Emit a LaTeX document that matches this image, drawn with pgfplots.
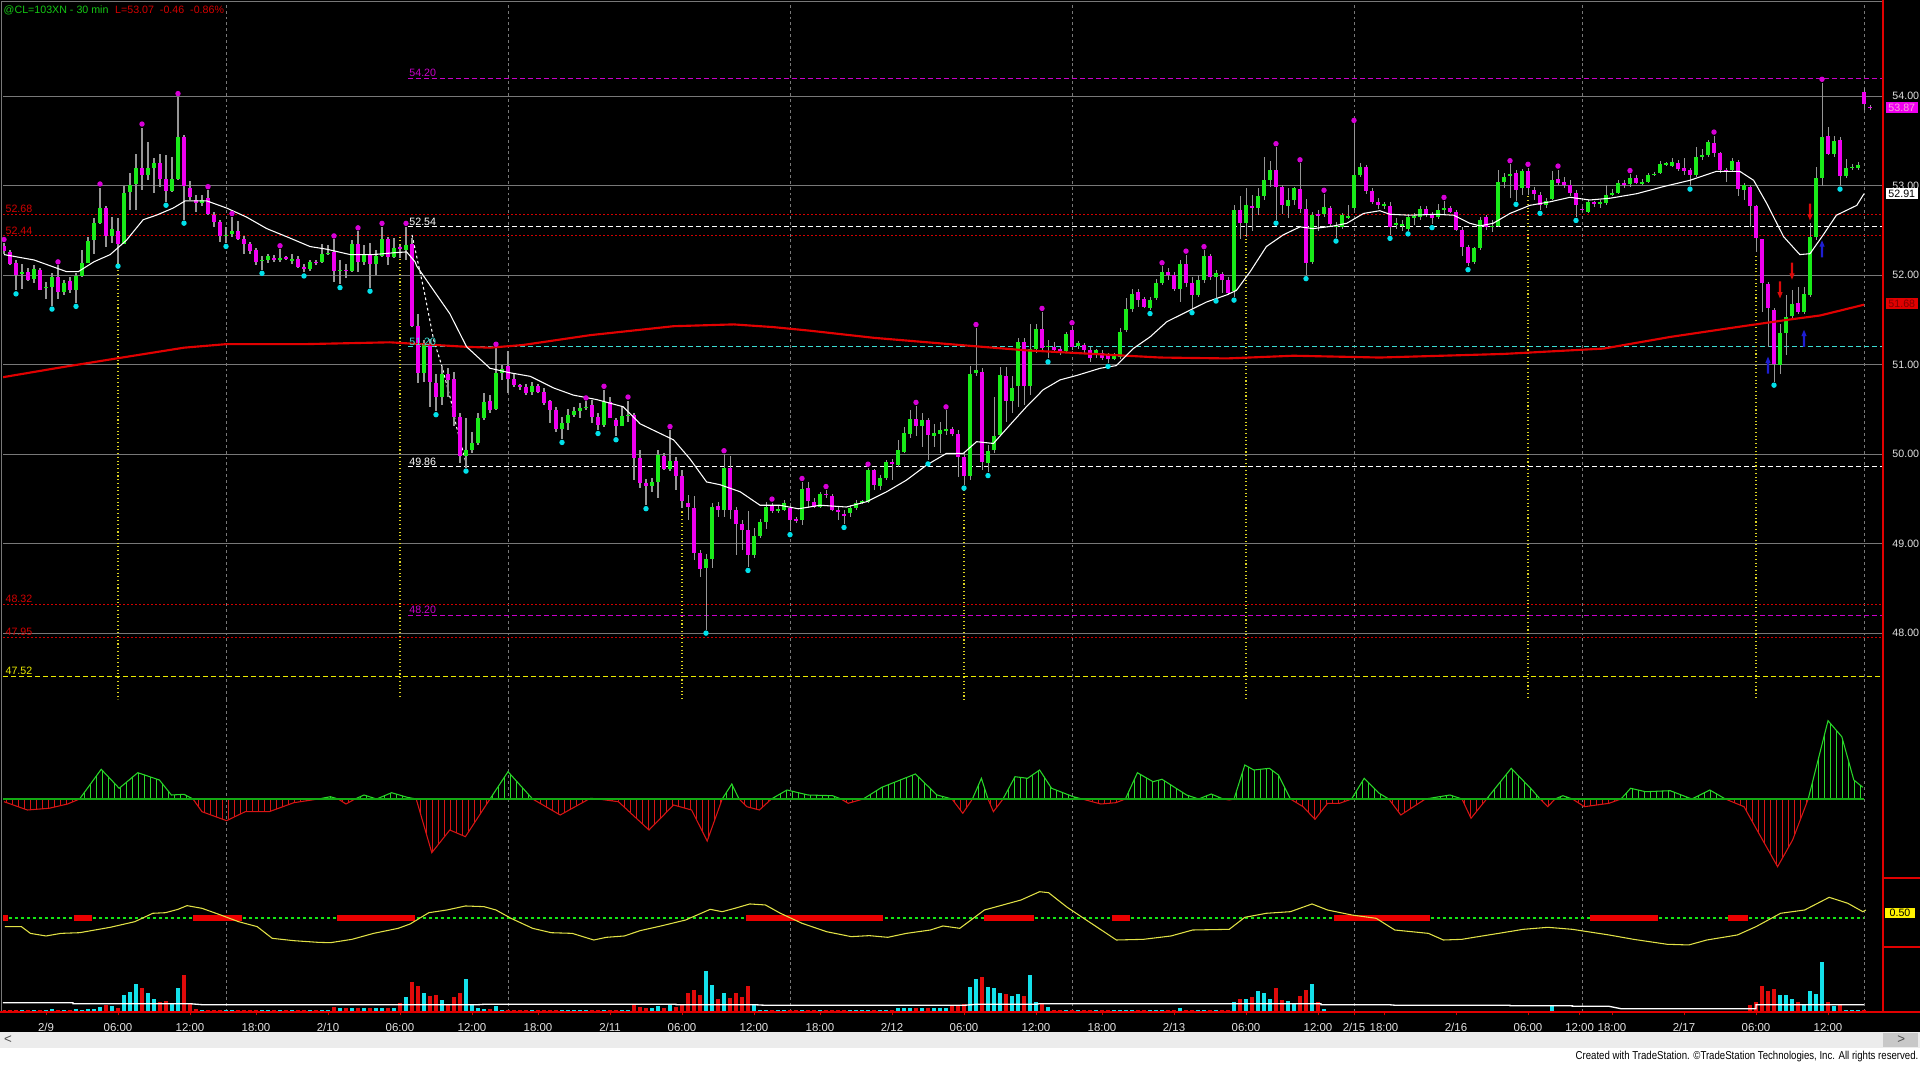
\documentclass[border=0pt]{standalone}
\usepackage{fontspec}
\setmainfont{Liberation Sans}
\usepackage{graphicx}
\usepackage{pgfplots}
\usepackage{pgfplotstable}
\pgfplotsset{compat=1.18}
\usetikzlibrary{patterns.meta}

\definecolor{upc}{RGB}{25,235,25}
\definecolor{dnc}{RGB}{240,0,240}
\definecolor{wick}{RGB}{150,150,150}
\definecolor{gridc}{RGB}{120,120,120}
\definecolor{mared}{RGB}{225,0,0}
\definecolor{dotcy}{RGB}{0,225,235}
\definecolor{dotmg}{RGB}{215,0,215}
\definecolor{lvred}{RGB}{210,0,0}
\definecolor{lvcy}{RGB}{60,220,210}
\definecolor{lvmg}{RGB}{200,0,200}
\definecolor{lvyel}{RGB}{235,235,0}
\definecolor{oscg}{RGB}{40,215,40}
\definecolor{oscr}{RGB}{215,20,20}
\definecolor{zerog}{RGB}{20,170,20}
\definecolor{yel}{RGB}{225,225,70}
\definecolor{dotg}{RGB}{20,230,20}
\definecolor{blk}{RGB}{235,0,0}
\definecolor{volc}{RGB}{20,225,235}
\definecolor{volr}{RGB}{225,10,10}
\definecolor{labc}{RGB}{225,225,225}
\definecolor{arrb}{RGB}{30,30,210}
\definecolor{arrr}{RGB}{220,10,10}
\definecolor{hdrg}{RGB}{20,200,20}
\definecolor{scrl}{RGB}{236,236,236}
\definecolor{scrd}{RGB}{200,200,200}

\newcommand{\lbl}{\fontsize{4}{4.8}\selectfont}

% arrow marks, tip at the data point
\pgfdeclareplotmark{dnarrow}{%
  \pgfpathmoveto{\pgfqpoint{0pt}{0pt}}%
  \pgfpathlineto{\pgfqpoint{1pt}{2.4pt}}%
  \pgfpathlineto{\pgfqpoint{0.4pt}{2.4pt}}%
  \pgfpathlineto{\pgfqpoint{0.4pt}{6.4pt}}%
  \pgfpathlineto{\pgfqpoint{-0.4pt}{6.4pt}}%
  \pgfpathlineto{\pgfqpoint{-0.4pt}{2.4pt}}%
  \pgfpathlineto{\pgfqpoint{-1pt}{2.4pt}}%
  \pgfpathclose\pgfusepathqfill}
\pgfdeclareplotmark{uparrow}{%
  \pgfpathmoveto{\pgfqpoint{0pt}{0pt}}%
  \pgfpathlineto{\pgfqpoint{1pt}{-2.4pt}}%
  \pgfpathlineto{\pgfqpoint{0.4pt}{-2.4pt}}%
  \pgfpathlineto{\pgfqpoint{0.4pt}{-6.4pt}}%
  \pgfpathlineto{\pgfqpoint{-0.4pt}{-6.4pt}}%
  \pgfpathlineto{\pgfqpoint{-0.4pt}{-2.4pt}}%
  \pgfpathlineto{\pgfqpoint{-1pt}{-2.4pt}}%
  \pgfpathclose\pgfusepathqfill}

% 30 min bars: index, open, high, low, close, volume
\pgfplotstableread{
i o h l c v
0 52.33 52.36 52.24 52.27 2
1 52.26 52.28 52.11 52.13 2
2 52.14 52.17 51.83 52.00 2
3 52.02 52.13 51.85 52.03 2
4 52.03 52.08 51.93 51.95 2
5 51.96 52.11 51.91 52.07 2
6 52.06 52.08 51.83 51.84 2
7 51.86 51.93 51.74 51.87 2
8 51.87 52.02 51.66 51.98 3
9 51.98 52.11 51.74 51.81 2
10 51.81 51.95 51.78 51.91 2
11 51.93 51.98 51.80 51.83 2
12 51.83 52.02 51.69 51.99 3
13 51.99 52.28 51.98 52.14 2
14 52.14 52.43 52.14 52.38 3
15 52.39 52.64 52.24 52.58 3
16 52.58 52.98 52.57 52.75 5
17 52.75 52.77 52.32 52.44 6.7
18 52.44 52.65 52.36 52.52 5.7
19 52.49 52.64 52.14 52.35 4
20 52.35 53.00 52.35 52.92 16.7
21 52.93 53.14 52.73 53.01 20
22 53.02 53.36 52.73 53.20 27.7
23 53.20 53.65 52.95 53.12 24.3
24 53.12 53.49 53.06 53.20 19.3
25 53.20 53.31 52.92 53.25 13.3
26 53.25 53.35 52.99 53.08 10
27 53.08 53.34 52.82 52.94 11
28 52.94 53.32 52.93 53.08 9
29 53.08 53.99 53.06 53.54 24.3
30 53.54 53.57 52.62 53.00 36.7
31 52.98 53.05 52.84 52.87 8.3
32 52.84 52.90 52.71 52.81 3.3
33 52.81 52.90 52.77 52.84 2
34 52.86 52.95 52.67 52.68 2
35 52.67 52.71 52.54 52.60 2
36 52.59 52.62 52.37 52.44 2
37 52.44 52.54 52.36 52.45 2
38 52.46 52.65 52.43 52.49 2
39 52.49 52.60 52.39 52.40 2
40 52.40 52.44 52.24 52.35 2
41 52.35 52.37 52.24 52.27 2
42 52.28 52.30 52.11 52.15 2
43 52.16 52.21 52.06 52.17 2
44 52.17 52.24 52.14 52.21 2
45 52.19 52.23 52.15 52.18 2
46 52.18 52.29 52.15 52.19 2
47 52.20 52.22 52.17 52.19 2
48 52.17 52.24 52.13 52.18 2
49 52.18 52.21 52.08 52.09 2
50 52.09 52.13 52.03 52.07 2
51 52.07 52.17 52.05 52.15 2
52 52.15 52.17 52.12 52.14 2
53 52.15 52.35 52.14 52.24 2
54 52.24 52.34 52.22 52.25 2
55 52.26 52.40 51.92 52.05 5
56 52.05 52.17 51.90 52.06 4
57 52.06 52.13 51.97 52.05 4
58 52.05 52.39 52.04 52.35 4
59 52.35 52.49 52.04 52.15 4
60 52.15 52.34 52.11 52.23 4
61 52.22 52.36 51.86 52.12 4
62 52.13 52.28 52.00 52.22 4
63 52.22 52.54 52.20 52.40 4
64 52.40 52.43 52.11 52.20 4
65 52.20 52.41 52.19 52.31 4
66 52.31 52.34 52.19 52.30 9
67 52.28 52.54 52.17 52.34 15
68 52.35 52.41 51.42 51.43 29.7
69 51.43 51.57 50.80 50.91 26.3
70 50.91 51.28 50.81 51.22 19
71 51.23 51.29 50.53 50.81 15.7
72 50.80 50.90 50.48 50.64 16.7
73 50.64 50.98 50.55 50.90 11.7
74 50.90 50.96 50.64 50.83 8.3
75 50.84 50.92 50.31 50.42 15
76 50.42 50.46 49.90 49.98 19
77 49.98 50.40 49.85 50.05 32.7
78 50.05 50.25 50.01 50.13 8.3
79 50.13 50.46 50.10 50.40 4.3
80 50.40 50.68 50.38 50.58 3.3
81 50.59 50.66 50.46 50.49 3
82 50.50 51.19 50.49 50.91 5.7
83 50.91 51.00 50.83 50.95 2
84 50.99 51.15 50.68 50.84 2
85 50.84 50.90 50.75 50.77 2
86 50.77 50.79 50.72 50.75 2
87 50.75 50.78 50.66 50.68 2
88 50.69 50.81 50.66 50.76 2
89 50.76 50.79 50.68 50.70 2
90 50.70 50.74 50.55 50.57 2
91 50.59 50.61 50.35 50.49 2
92 50.49 50.53 50.25 50.28 2
93 50.28 50.42 50.17 50.35 2
94 50.35 50.51 50.27 50.44 2
95 50.44 50.53 50.42 50.48 2
96 50.48 50.57 50.40 50.52 2
97 50.52 50.59 50.49 50.53 2
98 50.55 50.61 50.35 50.42 2
99 50.42 50.46 50.27 50.33 2
100 50.33 50.72 50.31 50.58 2
101 50.58 50.64 50.40 50.41 2
102 50.38 50.40 50.20 50.31 2
103 50.31 50.53 50.31 50.43 2
104 50.43 50.60 50.36 50.44 2
105 50.44 50.46 49.71 49.96 7.7
106 49.96 50.05 49.62 49.68 5
107 49.68 49.72 49.43 49.64 4
108 49.64 49.73 49.58 49.69 4.3
109 49.69 50.05 49.51 49.99 5.7
110 49.98 50.01 49.82 49.84 4
111 49.84 50.27 49.81 49.92 7.7
112 49.92 49.97 49.60 49.76 5
113 49.76 49.82 49.40 49.48 8.3
114 49.46 49.54 49.27 49.41 19.3
115 49.40 49.53 48.82 48.90 21.7
116 48.90 48.93 48.63 48.72 16.7
117 48.73 48.89 48.04 48.83 40.7
118 48.83 49.45 48.73 49.41 26.7
119 49.42 49.47 49.30 49.38 13.3
120 49.38 50.00 49.30 49.85 19.3
121 49.85 49.98 49.28 49.38 14.3
122 49.38 49.41 48.87 49.22 19.3
123 49.22 49.26 48.93 49.15 15
124 49.15 49.36 48.74 48.87 25.7
125 48.87 49.17 48.84 49.09 7.7
126 49.09 49.28 49.06 49.24 2.3
127 49.24 49.47 49.17 49.41 2
128 49.42 49.46 49.34 49.36 2
129 49.36 49.43 49.34 49.39 2
130 49.38 49.49 49.36 49.45 2
131 49.40 49.43 49.14 49.26 2
132 49.27 49.30 49.23 49.26 2
133 49.26 49.69 49.21 49.61 2
134 49.62 49.69 49.40 49.48 2
135 49.47 49.51 49.40 49.41 2
136 49.41 49.58 49.40 49.55 2
137 49.56 49.60 49.51 49.54 2
138 49.53 49.56 49.36 49.38 2
139 49.38 49.41 49.26 49.36 2
140 49.33 49.38 49.22 49.32 2
141 49.34 49.43 49.30 49.40 2
142 49.40 49.49 49.38 49.46 2
143 49.46 49.49 49.44 49.47 2
144 49.47 49.85 49.46 49.82 2
145 49.82 49.84 49.60 49.66 2
146 49.64 49.77 49.60 49.73 2
147 49.73 49.94 49.71 49.91 2
148 49.91 49.95 49.71 49.89 2
149 49.88 50.16 49.86 50.05 4.3
150 50.03 50.31 50.01 50.24 4.3
151 50.23 50.49 50.18 50.39 4.3
152 50.39 50.54 50.20 50.31 4.3
153 50.32 50.46 50.08 50.38 4.3
154 50.38 50.40 49.93 50.21 4.3
155 50.20 50.34 50.08 50.24 4.3
156 50.23 50.36 50.01 50.27 4.3
157 50.27 50.49 50.21 50.28 4.3
158 50.28 50.30 50.20 50.23 5.7
159 50.23 50.27 49.75 49.97 6
160 49.97 50.01 49.66 49.76 7.7
161 49.76 50.98 49.71 50.90 25
162 50.91 51.41 50.87 50.94 32.7
163 50.92 50.96 49.82 49.91 35
164 49.90 50.10 49.80 50.04 25
165 50.05 50.64 50.01 50.20 24.3
166 50.21 50.98 50.20 50.88 19.3
167 50.87 50.97 50.36 50.59 17.7
168 50.59 50.87 50.46 50.74 15.7
169 50.76 51.30 50.53 51.26 18.3
170 51.26 51.30 50.55 50.76 15.7
171 50.76 51.46 50.66 51.18 36.7
172 51.18 51.46 51.13 51.40 10
173 51.40 51.59 51.16 51.19 7.7
174 51.20 51.28 51.07 51.21 5
175 51.20 51.26 51.15 51.17 2
176 51.18 51.20 51.11 51.15 2
177 51.15 51.37 51.13 51.34 2
178 51.39 51.43 51.16 51.20 2
179 51.21 51.26 51.17 51.24 2
180 51.22 51.24 51.13 51.16 2
181 51.16 51.20 51.03 51.08 2
182 51.11 51.18 51.07 51.16 2
183 51.13 51.16 51.05 51.08 2
184 51.11 51.13 51.02 51.06 2
185 51.06 51.13 51.05 51.10 2
186 51.09 51.41 51.07 51.37 2
187 51.39 51.74 51.37 51.62 2
188 51.62 51.85 51.59 51.79 2
189 51.81 51.85 51.65 51.72 2
190 51.73 51.76 51.63 51.65 2
191 51.63 51.76 51.61 51.72 2
192 51.74 51.96 51.72 51.91 2
193 51.91 52.10 51.89 52.04 2
194 52.04 52.08 51.95 52.00 2
195 52.00 52.04 51.82 51.85 2
196 51.85 52.17 51.70 52.13 4.3
197 52.13 52.23 51.87 51.91 2
198 51.91 51.98 51.62 51.78 2
199 51.78 52.00 51.76 51.95 2
200 51.95 52.28 51.91 52.21 2
201 52.21 52.24 51.95 51.98 2
202 51.98 52.06 51.75 52.02 2
203 52.01 52.04 51.80 51.95 2
204 51.95 51.98 51.78 51.80 2
205 51.82 52.78 51.76 52.73 10
206 52.73 52.88 52.41 52.58 12.7
207 52.58 52.97 52.43 52.78 12.7
208 52.77 52.90 52.49 52.76 15
209 52.75 52.97 52.67 52.88 20.7
210 52.88 53.32 52.84 53.06 19
211 53.06 53.27 52.99 53.18 12.7
212 53.18 53.43 52.62 52.99 24
213 52.98 53.01 52.69 52.78 12.3
214 52.77 52.97 52.64 52.84 11
215 52.84 52.99 52.78 52.97 8.3
216 52.96 53.25 52.69 52.74 16
217 52.74 52.85 52.00 52.14 21.7
218 52.15 52.71 52.13 52.67 28.3
219 52.68 52.73 52.50 52.66 10
220 52.68 52.91 52.65 52.76 3.3
221 52.75 52.77 52.54 52.57 1.5
222 52.54 52.60 52.42 52.55 1.5
223 52.54 52.69 52.52 52.67 1.5
224 52.65 52.78 52.63 52.66 1.5
225 52.75 53.69 52.73 53.12 1.5
226 53.12 53.25 53.10 53.21 1.5
227 53.21 53.23 52.91 52.94 1.5
228 52.94 52.97 52.80 52.82 1.5
229 52.82 52.86 52.74 52.78 1.5
230 52.78 52.82 52.74 52.79 1.5
231 52.77 52.82 52.45 52.54 1.5
232 52.57 52.64 52.52 52.58 1.5
233 52.56 52.62 52.50 52.57 1.5
234 52.52 52.69 52.50 52.65 1.5
235 52.65 52.69 52.56 52.66 1.5
236 52.65 52.77 52.62 52.74 1.5
237 52.74 52.77 52.65 52.67 1.5
238 52.68 52.71 52.57 52.64 1.5
239 52.65 52.80 52.63 52.73 1.5
240 52.73 52.83 52.69 52.75 1.5
241 52.75 52.77 52.69 52.71 1.5
242 52.71 52.73 52.49 52.50 1.5
243 52.50 52.54 52.21 52.32 1.5
244 52.32 52.34 52.10 52.14 1.5
245 52.15 52.32 52.13 52.30 1.5
246 52.30 52.65 52.28 52.62 1.5
247 52.65 52.67 52.50 52.54 1.5
248 52.54 52.62 52.48 52.55 1.5
249 52.55 53.18 52.54 53.04 1.5
250 53.04 53.14 52.97 53.10 1.5
251 53.11 53.24 52.86 53.13 1.5
252 53.14 53.18 52.83 52.95 1.5
253 52.97 53.19 52.90 53.16 1.5
254 53.16 53.20 52.90 52.97 1.5
255 52.95 52.99 52.84 52.91 1.5
256 52.90 52.93 52.73 52.78 1.5
257 52.78 52.86 52.75 52.83 1.5
258 52.85 53.16 52.84 53.06 6.7
259 53.08 53.18 53.01 53.03 1.5
260 53.04 53.10 52.97 53.01 1.5
261 53.01 53.06 52.88 52.92 1.5
262 52.92 52.95 52.65 52.78 1.5
263 52.74 52.76 52.71 52.73 1.5
264 52.71 52.84 52.69 52.82 1.5
265 52.81 52.83 52.76 52.80 1.5
266 52.80 52.84 52.75 52.81 1.5
267 52.81 53.01 52.79 52.90 1.5
268 52.90 52.96 52.88 52.92 1.5
269 52.92 53.06 52.91 53.03 1.5
270 53.03 53.06 52.97 53.02 1.5
271 53.02 53.13 52.99 53.09 1.5
272 53.09 53.12 53.02 53.03 1.5
273 53.03 53.07 53.01 53.04 1.5
274 53.04 53.14 53.03 53.12 1.5
275 53.12 53.15 53.11 53.13 1.5
276 53.14 53.27 53.13 53.24 1.5
277 53.24 53.27 53.22 53.25 1.5
278 53.22 53.31 53.21 53.27 1.5
279 53.25 53.29 53.16 53.19 1.5
280 53.20 53.31 53.12 53.16 1.5
281 53.18 53.20 53.00 53.12 1.5
282 53.12 53.43 53.10 53.32 1.5
283 53.32 53.41 53.29 53.34 1.5
284 53.34 53.51 53.32 53.49 1.5
285 53.48 53.56 53.32 53.36 1.5
286 53.36 53.38 53.14 53.18 1.5
287 53.18 53.20 53.04 53.16 1.5
288 53.17 53.31 53.16 53.27 1.5
289 53.27 53.29 52.88 52.96 1.5
290 52.95 53.03 52.84 53.01 1.5
291 52.98 53.01 52.54 52.77 6.7
292 52.77 52.79 52.26 52.41 10
293 52.40 52.41 51.59 51.91 25.7
294 51.90 51.93 51.20 51.63 21
295 51.61 51.63 50.81 51.01 23.3
296 51.00 51.46 50.90 51.35 16.7
297 51.35 51.78 51.11 51.53 16.7
298 51.54 51.83 51.50 51.68 13.3
299 51.69 51.87 51.57 51.59 10
300 51.59 51.87 51.57 51.79 6.7
301 51.78 52.58 51.76 52.43 21
302 52.43 53.21 52.39 53.09 17.7
303 53.09 54.15 53.00 53.54 50
304 53.55 53.66 53.34 53.35 10
305 53.36 53.55 53.32 53.50 5.7
306 53.51 53.54 53.00 53.11 6.7
307 53.11 53.30 53.09 53.20 2.3
308 53.20 53.24 53.18 53.21 1.7
309 53.20 53.26 53.18 53.23 1.7
310 54.05 54.09 53.85 53.91 1.7
311 53.88 53.90 53.85 53.87 1
}\bars

% swing highs and lows
\pgfplotstableread{
i p
0 52.36
9 52.11
16 52.98
23 53.65
29 53.99
34 52.95
38 52.65
46 52.29
55 52.40
59 52.49
63 52.54
67 52.54
82 51.19
97 50.59
100 50.72
104 50.60
111 50.27
120 50.00
128 49.46
133 49.69
137 49.60
144 49.85
152 50.54
157 50.49
162 51.41
173 51.59
178 51.43
193 52.10
197 52.23
200 52.28
212 53.43
216 53.25
220 52.91
225 53.69
240 52.83
251 53.24
254 53.20
259 53.18
271 53.13
285 53.56
303 54.15
}\pkh
\pgfplotstableread{
i p
2 51.83
8 51.66
12 51.69
19 52.14
27 52.82
30 52.62
37 52.36
43 52.06
50 52.03
56 51.90
61 51.86
72 50.48
77 49.85
93 50.17
99 50.27
102 50.20
107 49.43
117 48.04
124 48.74
131 49.14
140 49.22
154 49.93
160 49.66
164 49.80
174 51.07
184 51.02
191 51.61
198 51.62
202 51.75
205 51.76
212 52.62
217 52.00
222 52.42
231 52.45
234 52.50
238 52.57
244 52.10
252 52.83
256 52.73
262 52.65
281 53.00
295 50.81
306 53.00
}\pkl

% short moving average (white)
\pgfplotstableread{
i p
0 52.23
5 52.17
10.4 52.04
12.4 52.04
15 52.15
17.7 52.23
20.4 52.39
23.2 52.62
25.4 52.67
28.2 52.75
30.2 52.83
33.8 52.83
37.1 52.75
40.4 52.65
43.8 52.52
47.1 52.43
51 52.32
53.8 52.29
57.7 52.23
61.6 52.23
64.9 52.25
67.1 52.26
68.5 52.15
68.8 52.10
71.6 51.83
74.3 51.57
77.1 51.20
81 50.96
84.3 50.91
87.7 50.87
91.6 50.74
94.9 50.66
98.8 50.61
103.2 50.53
106 50.34
108.8 50.25
111.6 50.16
114.3 49.95
117.1 49.69
119.3 49.66
122.7 49.58
126 49.43
129.3 49.43
132.4 49.39
136 49.43
140.4 49.41
143.8 49.47
147.1 49.58
150.4 49.71
153.8 49.88
157.1 50.01
159.9 50.01
162.1 50.14
164.9 50.12
167.7 50.33
170.4 50.53
173.2 50.72
176 50.83
178.8 50.88
182.7 50.96
185.4 50.99
188.2 51.18
191 51.31
193.8 51.48
197.1 51.59
200.4 51.70
203.8 51.78
205.4 51.83
207.7 52.04
210.4 52.32
213.2 52.45
216 52.54
218.2 52.52
221.6 52.55
223.8 52.58
226.6 52.69
229.3 52.72
231 52.68
234.3 52.67
238.8 52.68
241.6 52.67
244.3 52.58
246 52.55
248.2 52.58
251 52.69
254.3 52.78
257.7 52.82
261 52.87
264.3 52.84
267.7 52.86
272.1 52.91
276.6 52.99
281 53.06
283.2 53.11
285.4 53.16
287.7 53.16
289.3 53.16
291.6 53.06
293.8 52.80
296.6 52.43
299.3 52.23
301 52.24
303.2 52.45
305.4 52.67
308.8 52.78
310 52.91
}\maw

% long moving average (red)
\pgfplotstableread{
i p
-0.2 50.86
9.5 50.97
19.7 51.08
30 51.19
37.1 51.23
50.4 51.23
64.3 51.25
77 51.20
81 51.19
86.5 51.22
97.7 51.33
111.6 51.43
121.6 51.45
128.2 51.42
134.3 51.38
145 51.30
159.3 51.22
170.4 51.16
181.6 51.12
192.7 51.08
203.8 51.07
214.9 51.10
229.3 51.08
249.9 51.12
266.6 51.18
277.7 51.31
288.8 51.42
297.1 51.50
302.7 51.55
310 51.67
}\mar

% oscillator histogram envelope
\pgfplotstableread{
i v
0 -2.7
3.9 -11
7.5 -9.3
10.6 -5
12.6 0
16.2 29.7
19.2 10.7
22.3 26.3
25.9 19
27.9 4
30 4.7
31.5 0
33 -12.7
37.1 -21.7
40.2 -12.7
44.2 -12.7
48.3 -3.7
52.4 0
54.4 2.3
55.7 0
57 -5
58.5 0
60 4
62.1 0
64.6 6.3
67.2 1.7
68.7 0
71.3 -53.7
74.3 -31
76.9 -37.7
81 0
84 27.3
88.1 0
92.7 -16
97.5 0
97.8 0.7
99 0
102.4 -2.7
107.5 -31
111.6 -6
114.6 -11
117.2 -42
119.7 0
121.3 15
122.5 0
123.8 -7.7
125.9 -11
127.9 0
130.5 9
134 4
138.1 3.3
139.5 0
140.7 -4.3
143.2 0
146.3 11.7
151.9 25
155.5 4
158 0
159.8 -14.3
161.4 0
162.9 20.7
164 0
164.9 -12.7
166.5 0
168.5 22.3
170.6 20.7
172.6 29
174.6 10.7
178.2 2.3
179.7 0
182.8 -5
185.3 -3.7
186.9 0
188.9 26.3
191.5 17.3
193 19.7
197.1 4
199.1 0
201.2 5
203.2 0
204.2 -1
205 0
206.8 34
208.3 29
210.9 30.7
212.4 24
214.4 0
216.5 -7.7
218.5 -20.3
220.6 -4.3
222.6 -4.3
224.6 0
226.7 20.7
229.2 5.7
230.8 0
232.8 -16
236.9 0
241 4
243 0
244.5 -19.3
247.1 0
251.2 30.7
254.7 9
256 0
257.3 -7.7
258.5 0
259.8 3.3
261.4 0
263.4 -7.7
267.5 -4.3
269.5 0
271.1 10.7
273.6 7.3
277.7 8.3
281.3 0
284.3 9
286.9 0
290 -7.7
292 -29.3
295.6 -67.7
298.1 -41
300.7 0
304 78.3
306.3 62.3
308.3 19
309.8 11.7
}\osc

% second indicator line (yellow)
\pgfplotstableread{
i v
0.15 0.397
2.9 0.397
4.4 0.317
7 0.286
9.5 0.317
12.6 0.325
17.7 0.389
21.8 0.456
24.8 0.556
26.9 0.563
29 0.603
30.5 0.647
33 0.615
36.1 0.536
39.1 0.456
42.2 0.397
44.7 0.258
48.3 0.230
52.4 0.210
54.4 0.206
58 0.246
61.6 0.317
65.7 0.377
67.7 0.429
70.8 0.563
73.8 0.595
76.9 0.643
80 0.635
82 0.595
84.5 0.496
88.1 0.377
91.2 0.325
94.7 0.317
98.3 0.238
100.4 0.270
103.4 0.286
106 0.349
109.5 0.405
113.6 0.476
117.7 0.603
119.7 0.575
121.8 0.615
124.3 0.667
126.9 0.655
129.4 0.556
133 0.437
137.1 0.337
141.2 0.278
144.2 0.290
147.3 0.270
150.4 0.317
154.4 0.357
156.5 0.405
159.3 0.377
163.4 0.595
167.5 0.675
169.5 0.714
172.6 0.813
174.1 0.801
177.2 0.627
180.8 0.456
185.4 0.238
189.9 0.246
194.5 0.286
198.1 0.357
204.2 0.365
206.8 0.508
210.4 0.556
214.4 0.575
218 0.667
220.6 0.595
224.6 0.536
228.7 0.496
231.8 0.357
237.4 0.317
239.9 0.238
243 0.246
245 0.270
249.1 0.317
253.2 0.365
257.3 0.389
261.4 0.365
267.5 0.298
271.6 0.246
277.2 0.187
280.8 0.179
283.8 0.238
288.9 0.298
292 0.397
296.1 0.556
300.1 0.595
304.2 0.746
307.3 0.675
309.8 0.575
310.3 0.595
}\yel

% volume average
\pgfplotstableread{
i v
-0.17 9.3
11.5 9.3
11.5 8.3
31 8.3
33 7.3
79 7.3
80 7.7
112 7.7
112 7.3
125 7.3
127 6.7
160 6.7
162 7.7
172 7.7
172.6 8.3
219.5 8.3
219.5 7.3
230.8 7.3
232 6.7
251 6.7
251 6.3
261.4 6.3
261.4 5.7
267.5 5.7
269.5 3.3
292 3.3
292 7.3
310 7.3
}\vavg

\pgfplotsset{
  panel/.style={
    scale only axis, width=705pt, xmin=-0.167, xmax=313.167,
    axis line style={draw=none}, major tick length=0pt,
    xtick={37,84,131,178,225,263,310}, xticklabels={},
    xmajorgrids,
    major x grid style={gridc, line width=0.35pt, dash pattern=on 1.1pt off 1.1pt},
    ytick=\empty, clip mode=individual,
    tick label style={font=\lbl, text=labc},
  },
  lv/.style={line width=0.4pt, dash pattern=on 0.8pt off 0.7pt},
  ld/.style={line width=0.45pt, dash pattern=on 1.9pt off 1.1pt},
}

\begin{document}
\begin{tikzpicture}
\useasboundingbox (0,0) rectangle (720pt,399pt);
\fill[black] (0,12pt) rectangle (720pt,399pt);
\fill[scrl] (0,6pt) rectangle (720pt,12pt);
\fill[white] (0,0) rectangle (720pt,6pt);
\fill[scrd] (706pt,6.3pt) rectangle (719.3pt,11.7pt);
\node[font=\fontsize{5}{5}\selectfont, text=black!70, inner sep=0] at (3pt,9pt) {<};
\node[font=\fontsize{5}{5}\selectfont, text=black!70, inner sep=0] at (713pt,9pt) {>};
\node[anchor=east, inner sep=0, font=\fontsize{4.3}{5}\selectfont] at (719.6pt,2.9pt)
  {\scalebox{0.84}[1]{Created with TradeStation. \textcopyright TradeStation Technologies, Inc. All rights reserved.}};

% ---------------- price panel ----------------
\begin{axis}[panel, at={(1.125pt,136.5pt)}, anchor=south west, height=261.375pt,
  ymin=47.254, ymax=55.041, ytick={48,...,54}, yticklabel pos=right,
  ymajorgrids, major y grid style={gridc, line width=0.35pt},
  yticklabel style={/pgf/number format/.cd, fixed, fixed zerofill, precision=2, assume math mode=true}]

% level lines
\addplot[lvred, lv] coordinates {(-0.167,52.68) (313.167,52.68)};
\addplot[lvred, lv] coordinates {(-0.167,52.44) (313.167,52.44)};
\addplot[lvred, lv] coordinates {(-0.167,48.32) (313.167,48.32)};
\addplot[lvred, lv] coordinates {(-0.167,47.95) (313.167,47.95)};
\addplot[lvyel, ld] coordinates {(-0.167,47.52) (313.167,47.52)};
\addplot[lvmg, ld] coordinates {(67.3,54.20) (313.167,54.20)};
\addplot[white, ld] coordinates {(67.3,52.54) (313.167,52.54)};
\addplot[lvcy, ld] coordinates {(67.3,51.20) (313.167,51.20)};
\addplot[white, ld] coordinates {(67.3,49.86) (313.167,49.86)};
\addplot[lvmg, ld] coordinates {(67.3,48.20) (313.167,48.20)};

% yellow session markers
\addplot[yellow!85!black, densely dotted, line width=0.4pt] coordinates {(19,52.14) (19,47.26)};
\addplot[yellow!85!black, densely dotted, line width=0.4pt] coordinates {(66,52.43) (66,47.26)};
\addplot[yellow!85!black, densely dotted, line width=0.4pt] coordinates {(113,49.36) (113,47.26)};
\addplot[yellow!85!black, densely dotted, line width=0.4pt] coordinates {(160,49.64) (160,47.26)};
\addplot[yellow!85!black, densely dotted, line width=0.4pt] coordinates {(207,52.45) (207,47.26)};
\addplot[yellow!85!black, densely dotted, line width=0.4pt] coordinates {(254,52.88) (254,47.26)};
\addplot[yellow!85!black, densely dotted, line width=0.4pt] coordinates {(292,52.21) (292,47.26)};

% swing line after the break
\addplot[white, line width=0.4pt, dash pattern=on 1pt off 1pt] coordinates {(68,52.45) (70,51.83) (71.6,51.28) (73,50.98) (74.6,50.57) (75.4,50.31) (77.1,49.88)};

% wicks
\addplot[draw=none, mark=none, forget plot,
  error bars/.cd, y dir=both, y explicit, error mark=none,
  error bar style={draw=wick, line width=0.38pt}]
  table[x=i, y expr={(\thisrow{h}+\thisrow{l})/2}, y error expr={(\thisrow{h}-\thisrow{l})/2}] {\bars};
% up bodies
\addplot[draw=none, mark=none, forget plot, restrict y to domain=40:60,
  error bars/.cd, y dir=both, y explicit, error mark=none,
  error bar style={draw=upc, line width=1.6pt}]
  table[x=i, y expr={(\thisrow{c}>=\thisrow{o}) ? ((\thisrow{o}+\thisrow{c})/2) : -100},
        y error expr={max(abs(\thisrow{c}-\thisrow{o})/2,0.007)}] {\bars};
% down bodies
\addplot[draw=none, mark=none, forget plot, restrict y to domain=40:60,
  error bars/.cd, y dir=both, y explicit, error mark=none,
  error bar style={draw=dnc, line width=1.6pt}]
  table[x=i, y expr={(\thisrow{c}<\thisrow{o}) ? ((\thisrow{o}+\thisrow{c})/2) : -100},
        y error expr={max(abs(\thisrow{c}-\thisrow{o})/2,0.007)}] {\bars};

% moving averages
\addplot[mared, line width=0.8pt] table[x=i, y=p] {\mar};
\addplot[white, line width=0.4pt] table[x=i, y=p] {\maw};

% pivot dots
\addplot[only marks, mark=*, mark size=0.8pt, dotmg, mark options={yshift=1.3pt}] table[x=i, y=p] {\pkh};
\addplot[only marks, mark=*, mark size=0.8pt, dotcy, mark options={yshift=-1.3pt}] table[x=i, y=p] {\pkl};

% signal arrows
\addplot[only marks, mark=dnarrow, arrr, mark options={fill=arrr}] coordinates {(296,51.74) (298,51.95) (301,52.61)};
\addplot[only marks, mark=uparrow, arrb, mark options={fill=arrb}] coordinates {(294,51.09) (300,51.39) (303,52.39)};

% level labels
\node[anchor=south west, inner sep=0.4pt, font=\lbl, text=lvred] at (axis cs:0,52.68) {52.68};
\node[anchor=south west, inner sep=0.4pt, font=\lbl, text=lvred] at (axis cs:0,52.44) {52.44};
\node[anchor=south west, inner sep=0.4pt, font=\lbl, text=lvred] at (axis cs:0,48.32) {48.32};
\node[anchor=south west, inner sep=0.4pt, font=\lbl, text=lvred] at (axis cs:0,47.95) {47.95};
\node[anchor=south west, inner sep=0.4pt, font=\lbl, text=lvyel] at (axis cs:0,47.52) {47.52};
\node[anchor=south west, inner sep=0.4pt, font=\lbl, text=lvmg] at (axis cs:67.3,54.20) {54.20};
\node[anchor=south west, inner sep=0.4pt, font=\lbl, text=white] at (axis cs:67.3,52.54) {52.54};
\node[anchor=south west, inner sep=0.4pt, font=\lbl, text=lvcy] at (axis cs:67.3,51.20) {51.20};
\node[anchor=south west, inner sep=0.4pt, font=\lbl, text=white] at (axis cs:67.3,49.86) {49.86};
\node[anchor=south west, inner sep=0.4pt, font=\lbl, text=lvmg] at (axis cs:67.3,48.20) {48.20};

% last values on the price scale
\node[fill=dnc, text=magenta!35!white, font=\lbl, inner sep=0.6pt, minimum width=12pt] at (axis cs:316.3,53.87) {53.87};
\node[fill=white, text=black, font=\lbl, inner sep=0.6pt, minimum width=12pt] at (axis cs:316.3,52.91) {52.91};
\node[fill=mared, text=red!50!black, font=\lbl, inner sep=0.6pt, minimum width=12pt] at (axis cs:316.3,51.68) {51.68};
\end{axis}

% ---------------- oscillator panel ----------------
\begin{axis}[panel, at={(1.125pt,69.75pt)}, anchor=south west, height=66.75pt,
  ymin=-79, ymax=99]
\addplot[draw=none, pattern={Lines[angle=90,distance=2.25pt,line width=0.35pt]}, pattern color=oscr]
  table[x=i, y expr={min(\thisrow{v},0)}] {\osc} \closedcycle;
\addplot[draw=none, pattern={Lines[angle=90,distance=2.25pt,line width=0.35pt]}, pattern color=oscg]
  table[x=i, y expr={max(\thisrow{v},0)}] {\osc} \closedcycle;
\addplot[oscr, line width=0.4pt] table[x=i, y expr={min(\thisrow{v},0)}] {\osc};
\addplot[oscg, line width=0.4pt] table[x=i, y expr={max(\thisrow{v},0)}] {\osc};
\addplot[zerog, line width=0.6pt] coordinates {(-0.167,0) (310,0)};
\end{axis}

% ---------------- second indicator panel ----------------
\begin{axis}[panel, at={(1.125pt,39pt)}, anchor=south west, height=30.75pt,
  ymin=0, ymax=0.976]
\addplot[dotg, line width=1.1pt, dash pattern=on 1.1pt off 1.15pt] coordinates {(-0.167,0.5) (310,0.5)};
\addplot[blk, line width=2.5pt] coordinates {(-0.17,0.5) (0.6,0.5)};
\addplot[blk, line width=2.5pt] coordinates {(11.6,0.5) (14.6,0.5)};
\addplot[blk, line width=2.5pt] coordinates {(31.5,0.5) (39.6,0.5)};
\addplot[blk, line width=2.5pt] coordinates {(55.5,0.5) (68.5,0.5)};
\addplot[blk, line width=2.5pt] coordinates {(123.6,0.5) (146.5,0.5)};
\addplot[blk, line width=2.5pt] coordinates {(163.4,0.5) (171.6,0.5)};
\addplot[blk, line width=2.5pt] coordinates {(184.6,0.5) (187.7,0.5)};
\addplot[blk, line width=2.5pt] coordinates {(221.6,0.5) (237.7,0.5)};
\addplot[blk, line width=2.5pt] coordinates {(264.4,0.5) (275.7,0.5)};
\addplot[blk, line width=2.5pt] coordinates {(287.4,0.5) (290.7,0.5)};
\addplot[yel, line width=0.4pt] table[x=i, y=v] {\yel};
\node[fill=yellow, text=black, font=\lbl, inner sep=0.6pt, minimum width=11pt] at (axis cs:316.0,0.56) {0.50};
\end{axis}

% ---------------- volume panel ----------------
\begin{axis}[panel, at={(1.125pt,19.5pt)}, anchor=south west, height=19.5pt,
  ymin=0, ymax=52, xtick pos=bottom,
  extra x ticks={7,19,31,42,54,66,78,89,101,113,125,136,148,160,172,183,195,207,219,225,230,242,254,262.6,268,280,292,304},
  extra x tick labels={2/9,06:00,12:00,18:00,2/10,06:00,12:00,18:00,2/11,06:00,12:00,18:00,2/12,06:00,12:00,18:00,2/13,06:00,12:00,2/15,18:00,2/16,06:00,12:00,18:00,2/17,06:00,12:00},
  extra x tick style={grid=none, major tick length=1.3pt, tick align=outside, tick style={lvred, line width=0.35pt}},
  xticklabel style={yshift=0.5pt, font=\fontsize{4.3}{5}\selectfont}]
\addplot[ycomb, volc, line width=1.4pt, restrict y to domain=0:100]
  table[x=i, y expr={(\thisrow{c}>=\thisrow{o}) ? \thisrow{v} : -1}] {\bars};
\addplot[ycomb, volr, line width=1.4pt, restrict y to domain=0:100]
  table[x=i, y expr={(\thisrow{c}<\thisrow{o}) ? \thisrow{v} : -1}] {\bars};
\addplot[white, line width=0.5pt] table[x=i, y=v] {\vavg};
\end{axis}

% frame, right scale line, baseline and panel marks
\draw[gridc, line width=0.4pt] (0.5pt,19.5pt) -- (0.5pt,398.5pt) -- (706.1pt,398.5pt);
\draw[mared, line width=0.45pt] (706.1pt,19.5pt) -- (706.1pt,399pt);
\draw[mared, line width=0.45pt] (0,19.5pt) -- (720pt,19.5pt);
\draw[mared, line width=0.45pt] (706.1pt,69.75pt) -- (720pt,69.75pt);
\draw[mared, line width=0.45pt] (706.1pt,43.9pt) -- (720pt,43.9pt);

% header
\node[anchor=west, inner sep=0, font=\fontsize{4}{5}\selectfont, text=hdrg] at (1.2pt,395.2pt) {@CL=103XN - 30 min};
\node[anchor=west, inner sep=0, font=\fontsize{4}{5}\selectfont, text=lvred] at (43pt,395.2pt) {L=53.07\ \ -0.46\ \ -0.86\%};
\end{tikzpicture}
\end{document}
